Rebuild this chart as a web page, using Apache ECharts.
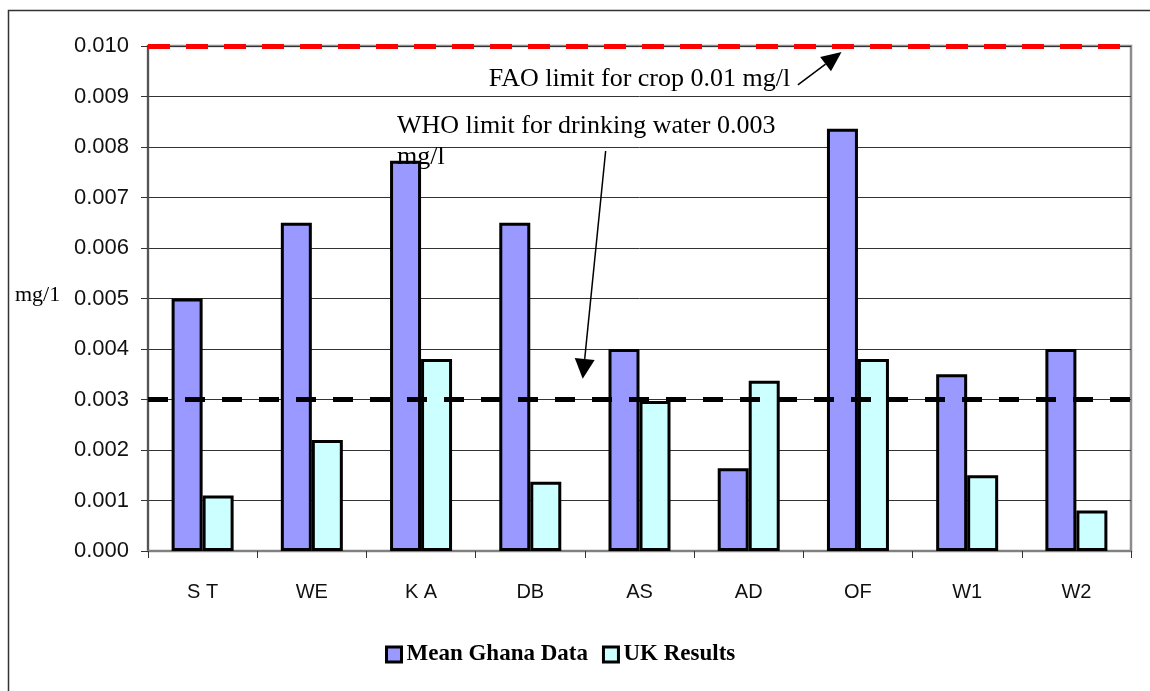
<!DOCTYPE html>
<html>
<head>
<meta charset="utf-8">
<script src="https://cdn.jsdelivr.net/npm/echarts@6/dist/echarts.min.js"></script>
<style>html,body{margin:0;padding:0;background:#fff}#c{width:1150px;height:691px}</style>
</head>
<body>
<div id="c"></div>
<script>
const categories = ['S T', 'WE', 'K A', 'DB', 'AS', 'AD', 'OF', 'W1', 'W2'];
const meanGhana = [0.0050, 0.0065, 0.00773, 0.0065, 0.0040, 0.00164, 0.00836, 0.0035, 0.0040];
const ukResults = [0.0011, 0.0022, 0.0038, 0.00137, 0.00297, 0.00337, 0.0038, 0.0015, 0.0008];
const seriesNames = ['Mean Ghana Data', 'UK Results'];
const faoLimit = 0.010;
const whoLimit = 0.003;
const yMin = 0, yMax = 0.010, yStep = 0.001;

const chart = echarts.init(document.getElementById('c'), null, {renderer: 'canvas'});
const sans = 'Liberation Sans';
const serif = 'Liberation Serif';

chart.setOption({
  animation: false,
  backgroundColor: '#fff',
  grid: {left: 148, right: 19, top: 46, bottom: 140, show: true, borderColor: '#8c8c8c', borderWidth: 2.5, backgroundColor: '#fff'},
  legend: {
    data: seriesNames,
    left: 380, top: 638,
    itemWidth: 15, itemHeight: 15, itemGap: 14,
    icon: 'rect',
    itemStyle: {borderColor: '#000', borderWidth: 3},
    textStyle: {fontFamily: serif, fontWeight: 'bold', fontSize: 23, color: '#000'}
  },
  xAxis: {
    type: 'category', data: categories,
    axisLine: {lineStyle: {color: '#808080', width: 2}},
    axisTick: {show: true, length: 7, lineStyle: {color: '#333', width: 1}},
    axisLabel: {margin: 31, fontFamily: sans, fontSize: 20, color: '#111'},
    splitLine: {show: false}
  },
  yAxis: {
    type: 'value', min: yMin, max: yMax, interval: yStep,
    axisLine: {show: true, lineStyle: {color: '#555', width: 2}},
    axisTick: {show: true, length: 7, inside: false, lineStyle: {color: '#333', width: 1}},
    axisLabel: {margin: 19, fontFamily: sans, fontSize: 22, color: '#111', formatter: v => v.toFixed(3)},
    splitLine: {show: true, lineStyle: {color: '#333', width: 1}}
  },
  series: [
    {name: seriesNames[0], type: 'bar', data: meanGhana, barWidth: 31, barGap: '0%',
     itemStyle: {color: '#9999ff', borderColor: '#000', borderWidth: 3}},
    {name: seriesNames[1], type: 'bar', data: ukResults, barWidth: 31, barGap: '0%',
     itemStyle: {color: '#ccffff', borderColor: '#000', borderWidth: 3},
     markLine: {
       silent: true, symbol: ['none', 'none'], label: {show: false}, z: 20, precision: 6,
       data: [
         {yAxis: faoLimit, lineStyle: {color: '#ff0000', width: 5, type: [22, 16]}},
         {yAxis: whoLimit, lineStyle: {color: '#000', width: 5, type: [20, 17]}}
       ]
     }}
  ]
});

// annotations anchored in data space (category-position, value)
function px(f, v) {
  const p0 = chart.convertToPixel({xAxisIndex: 0}, 0);
  const p1 = chart.convertToPixel({xAxisIndex: 0}, 1);
  const y = chart.convertToPixel({yAxisIndex: 0}, v);
  return [p0 + f * (p1 - p0), y];
}
function arrow(from, to, len, half) {
  const dx = to[0] - from[0], dy = to[1] - from[1];
  const d = Math.sqrt(dx * dx + dy * dy);
  const ux = dx / d, uy = dy / d;
  const bx = to[0] - ux * len, by = to[1] - uy * len;
  return [
    {type: 'line', z: 30, shape: {x1: from[0], y1: from[1], x2: bx, y2: by}, style: {stroke: '#000', lineWidth: 1.5}},
    {type: 'polygon', z: 30, shape: {points: [to, [bx - uy * half, by + ux * half], [bx + uy * half, by - ux * half]]}, style: {fill: '#000'}}
  ];
}
const faoText = px(2.62, 0.00934);
const whoText1 = px(1.78, 0.00842);
const whoText2 = px(1.78, 0.00780);
const graphics = [
  {type: 'rect', z: 0, shape: {x: 8.5, y: 10.5, width: 1300, height: 800}, style: {fill: null, stroke: '#333', lineWidth: 1.5}},
  {type: 'text', z: 30, style: {text: 'mg/1', x: 15, y: 295, fontFamily: serif, fontSize: 22, fill: '#000', verticalAlign: 'middle'}},
  {type: 'text', z: 30, style: {text: 'FAO limit for crop 0.01 mg/l', x: faoText[0], y: faoText[1], fontFamily: serif, fontSize: 26, fill: '#000', verticalAlign: 'middle'}},
  {type: 'text', z: 30, style: {text: 'WHO limit for drinking water 0.003', x: whoText1[0], y: whoText1[1], fontFamily: serif, fontSize: 26, fill: '#000', verticalAlign: 'middle'}},
  {type: 'text', z: 30, style: {text: 'mg/l', x: whoText2[0], y: whoText2[1], fontFamily: serif, fontSize: 26, fill: '#000', verticalAlign: 'middle'}}
].concat(arrow(px(5.45, 0.00923), px(5.85, 0.00988), 20, 9))
 .concat(arrow(px(3.69, 0.00792), px(3.48, 0.00341), 20, 10));
chart.setOption({graphic: graphics});
</script>
</body>
</html>
